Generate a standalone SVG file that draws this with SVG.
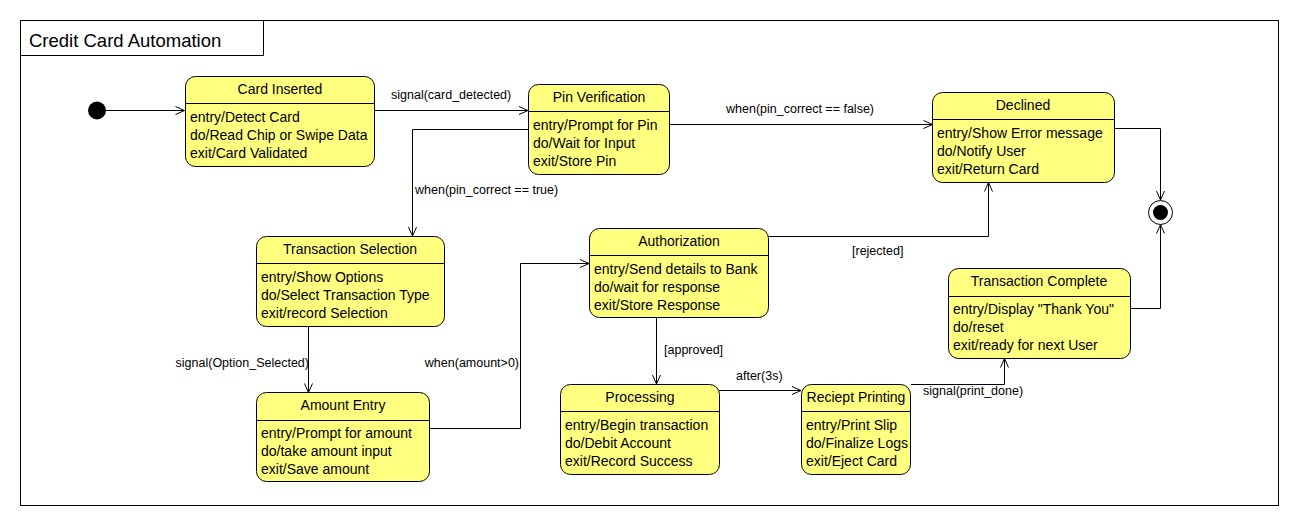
<svg xmlns="http://www.w3.org/2000/svg" width="1299" height="527" viewBox="0 0 1299 527">
<style>
.st{fill:#ffff80;stroke:#000;stroke-width:1}
.dv{stroke:#000;stroke-width:1}
.tt{font-family:"Liberation Sans",Arial,sans-serif;font-size:14px;fill:#000;text-anchor:middle}
.bd{font-family:"Liberation Sans",Arial,sans-serif;font-size:14px;fill:#000}
.lb{font-family:"Liberation Sans",Arial,sans-serif;font-size:12.5px;fill:#000}
.le{text-anchor:end}
.cn{fill:none;stroke:#000;stroke-width:1;marker-end:url(#arr)}
</style>
<defs>
<marker id="arr" markerUnits="userSpaceOnUse" markerWidth="12" markerHeight="10" refX="10" refY="5" orient="auto">
<path d="M1,1 L10,5 L1,9" fill="none" stroke="#000" stroke-width="1"/>
</marker>
</defs>
<rect width="1299" height="527" fill="#fff"/>
<g id="frame">
<rect x="20.5" y="20.5" width="1258" height="485" fill="none" stroke="#000"/>
<path d="M20.5,55.5 H263.5 V20.5" fill="none" stroke="#000"/>
<text x="29" y="47" font-family="Liberation Sans,Arial,sans-serif" font-size="18.5">Credit Card Automation</text>
</g>
<g id="connectors">
<path class="cn" d="M106,110.5 H184.5"/>
<path class="cn" d="M374,110.5 H528"/>
<text class="lb" x="391" y="99">signal(card_detected)</text>
<path class="cn" d="M669,124.5 H932.5"/>
<text class="lb" x="726" y="113">when(pin_correct == false)</text>
<path class="cn" d="M528,129.5 H412.5 V236"/>
<text class="lb" x="415" y="194">when(pin_correct == true)</text>
<path class="cn" d="M308.5,326 V392.5"/>
<text class="lb le" x="309" y="367">signal(Option_Selected)</text>
<path class="cn" d="M429,428.5 H520.5 V263.5 H589"/>
<text class="lb le" x="519" y="367">when(amount&gt;0)</text>
<path class="cn" d="M768,236.5 H988.5 V182.5"/>
<text class="lb" x="852" y="255">[rejected]</text>
<path class="cn" d="M656.5,317.5 V384"/>
<text class="lb" x="664" y="354">[approved]</text>
<path class="cn" d="M719,390.5 H801"/>
<text class="lb" x="736" y="380">after(3s)</text>
<path class="cn" d="M911,384.5 H1004.5 V358.5"/>
<text class="lb" x="923" y="395">signal(print_done)</text>
<path class="cn" d="M1114,128.5 H1160.5 V200"/>
<path class="cn" d="M1130,308.5 H1160.5 V224.5"/>
</g>
<g id="initial"><circle cx="97" cy="110.5" r="9" fill="#000"/></g>
<g id="final">
<circle cx="1160.5" cy="212.5" r="12" fill="#fff" stroke="#000"/>
<circle cx="1160.5" cy="212.5" r="7.5" fill="#000"/>
</g>
<g id="card-inserted">
<rect class="st" x="185.5" y="76.5" width="189" height="90" rx="10"/>
<line class="dv" x1="185.5" y1="103.5" x2="374.5" y2="103.5"/>
<text class="tt" x="280" y="94">Card Inserted</text>
<text class="bd" x="190" y="122">entry/Detect Card</text>
<text class="bd" x="190" y="140">do/Read Chip or Swipe Data</text>
<text class="bd" x="190" y="158">exit/Card Validated</text>
</g>
<g id="pin-verification">
<rect class="st" x="528.5" y="84.5" width="141" height="90" rx="10"/>
<line class="dv" x1="528.5" y1="111.5" x2="669.5" y2="111.5"/>
<text class="tt" x="599" y="102">Pin Verification</text>
<text class="bd" x="533" y="130">entry/Prompt for Pin</text>
<text class="bd" x="533" y="148">do/Wait for Input</text>
<text class="bd" x="533" y="166">exit/Store Pin</text>
</g>
<g id="declined">
<rect class="st" x="932.5" y="92.5" width="182" height="90" rx="10"/>
<line class="dv" x1="932.5" y1="119.5" x2="1114.5" y2="119.5"/>
<text class="tt" x="1023" y="110">Declined</text>
<text class="bd" x="937" y="138">entry/Show Error message</text>
<text class="bd" x="937" y="156">do/Notify User</text>
<text class="bd" x="937" y="174">exit/Return Card</text>
</g>
<g id="transaction-selection">
<rect class="st" x="256.5" y="236.5" width="188" height="90" rx="10"/>
<line class="dv" x1="256.5" y1="263.5" x2="444.5" y2="263.5"/>
<text class="tt" x="350" y="254">Transaction Selection</text>
<text class="bd" x="261" y="282">entry/Show Options</text>
<text class="bd" x="261" y="300">do/Select Transaction Type</text>
<text class="bd" x="261" y="318">exit/record Selection</text>
</g>
<g id="authorization">
<rect class="st" x="589.5" y="228.5" width="179" height="89" rx="10"/>
<line class="dv" x1="589.5" y1="255.5" x2="768.5" y2="255.5"/>
<text class="tt" x="679" y="246">Authorization</text>
<text class="bd" x="594" y="274">entry/Send details to Bank</text>
<text class="bd" x="594" y="292">do/wait for response</text>
<text class="bd" x="594" y="310">exit/Store Response</text>
</g>
<g id="transaction-complete">
<rect class="st" x="948.5" y="268.5" width="182" height="90" rx="10"/>
<line class="dv" x1="948.5" y1="296.5" x2="1130.5" y2="296.5"/>
<text class="tt" x="1039" y="286">Transaction Complete</text>
<text class="bd" x="953" y="314">entry/Display "Thank You"</text>
<text class="bd" x="953" y="332">do/reset</text>
<text class="bd" x="953" y="350">exit/ready for next User</text>
</g>
<g id="amount-entry">
<rect class="st" x="256.5" y="392.5" width="173" height="89" rx="10"/>
<line class="dv" x1="256.5" y1="420.5" x2="429.5" y2="420.5"/>
<text class="tt" x="343" y="410">Amount Entry</text>
<text class="bd" x="261" y="438">entry/Prompt for amount</text>
<text class="bd" x="261" y="456">do/take amount input</text>
<text class="bd" x="261" y="474">exit/Save amount</text>
</g>
<g id="processing">
<rect class="st" x="560.5" y="384.5" width="159" height="90" rx="10"/>
<line class="dv" x1="560.5" y1="411.5" x2="719.5" y2="411.5"/>
<text class="tt" x="640" y="402">Processing</text>
<text class="bd" x="565" y="430">entry/Begin transaction</text>
<text class="bd" x="565" y="448">do/Debit Account</text>
<text class="bd" x="565" y="466">exit/Record Success</text>
</g>
<g id="receipt-printing">
<rect class="st" x="801.5" y="384.5" width="109" height="90" rx="10"/>
<line class="dv" x1="801.5" y1="411.5" x2="910.5" y2="411.5"/>
<text class="tt" x="856" y="402">Reciept Printing</text>
<text class="bd" x="806" y="430">entry/Print Slip</text>
<text class="bd" x="806" y="448">do/Finalize Logs</text>
<text class="bd" x="806" y="466">exit/Eject Card</text>
</g>
</svg>
